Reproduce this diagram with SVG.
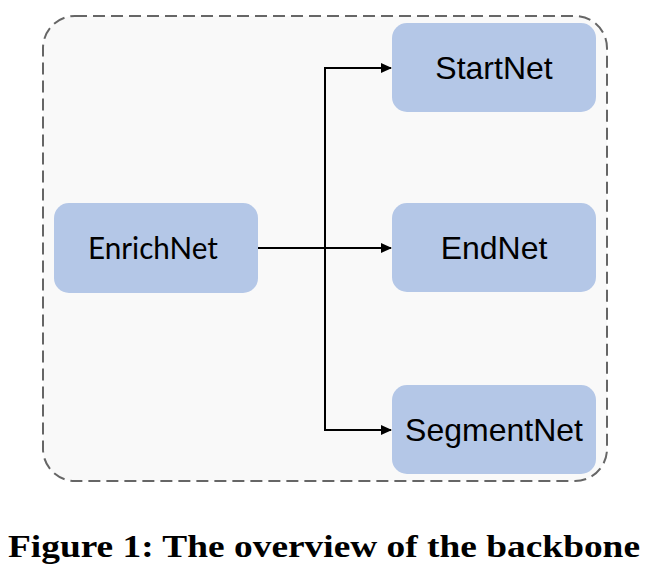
<svg xmlns="http://www.w3.org/2000/svg" width="649" height="575" viewBox="0 0 649 575">
<style>
.node rect{fill:#b4c7e7;}
.lbl{font-family:"Liberation Sans",Arial,sans-serif;font-size:32px;fill:#000;text-anchor:middle;}
.cal{font-family:Lato,"Open Sans",sans-serif;font-size:30px;fill:#000;text-anchor:middle;}
.edge{fill:none;stroke:#000;stroke-width:2;}
.cap{font-family:"Liberation Serif","Times New Roman",serif;font-weight:bold;font-size:31px;fill:#000;}
</style>
<defs>
<marker id="arr" markerWidth="11" markerHeight="10" refX="10" refY="5" orient="auto" markerUnits="userSpaceOnUse">
<path d="M0,0 L11,5 L0,10 Z" fill="#000"/>
</marker>
</defs>
<rect width="649" height="575" fill="#fff"/>
<rect id="container" x="43" y="16" width="564" height="465" rx="32" fill="#f9f9f9" stroke="#666" stroke-width="2" stroke-dasharray="12 6"/>
<g id="EnrichNet" class="node"><rect x="54" y="203" width="204" height="90" rx="15"/><text class="cal" x="153" y="259" textLength="130" lengthAdjust="spacingAndGlyphs">EnrichNet</text></g>
<g id="StartNet" class="node"><rect x="392" y="23" width="204" height="89" rx="15"/><text class="lbl" x="494" y="79">StartNet</text></g>
<g id="EndNet" class="node"><rect x="392" y="203" width="204" height="89" rx="15"/><text class="lbl" x="494" y="259">EndNet</text></g>
<g id="SegmentNet" class="node"><rect x="392" y="385" width="204" height="89" rx="15"/><text class="lbl" x="494" y="441">SegmentNet</text></g>
<g id="connectors">
<path class="edge" d="M258,248 H391" marker-end="url(#arr)"/>
<path class="edge" d="M325,248 V68 H391" marker-end="url(#arr)"/>
<path class="edge" d="M325,248 V430 H391" marker-end="url(#arr)"/>
</g>
<text class="cap" x="8" y="557" textLength="632" lengthAdjust="spacingAndGlyphs">Figure 1: The overview of the backbone</text>
</svg>
